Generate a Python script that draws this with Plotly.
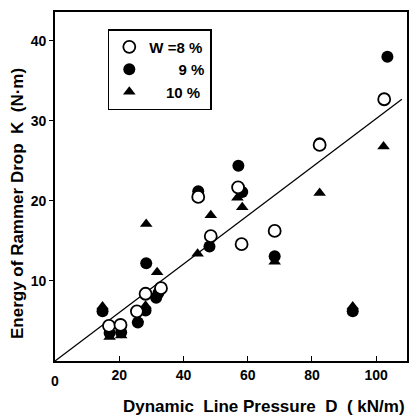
import plotly.graph_objects as go

# W = 8 % (open circles)
x8 = [102.5, 82.4, 57.0, 44.6, 48.5, 58.1, 68.4, 28.2, 33.0, 25.5, 16.8, 20.4]
y8 = [32.7, 27.0, 21.7, 20.5, 15.6, 14.6, 16.25, 8.4, 9.1, 6.2, 4.4, 4.5]
# W = 9 % (filled circles)
x9 = [103.5, 82.4, 57.1, 44.6, 58.3, 48.1, 28.4, 68.4, 31.5, 32.2, 28.2, 92.7, 14.8, 17.0, 20.6, 25.8]
y9 = [38.0, 27.2, 24.4, 21.2, 21.1, 14.3, 12.2, 13.1, 7.9, 8.5, 6.3, 6.2, 6.2, 3.5, 3.6, 4.8]
# W = 10 % (triangles)
x10 = [102.3, 82.4, 28.4, 48.5, 56.8, 58.3, 44.4, 31.8, 68.4, 14.8, 17.0, 20.6, 25.8, 28.2, 92.7]
y10 = [26.8, 21.0, 17.1, 18.2, 20.4, 19.2, 13.4, 11.1, 12.4, 6.8, 3.0, 3.2, 5.2, 6.9, 6.8]
# regression line
fit_x = [0, 108]
fit_y = [0, 32.7]

x_ticks = [0, 20, 40, 60, 80, 100]
y_ticks = [10, 20, 30, 40]

FONT = "Liberation Sans"

fig = go.Figure()
fig.add_trace(go.Scatter(x=fit_x, y=fit_y, mode="lines", line=dict(color="black", width=1.3),
                         showlegend=False, hoverinfo="skip"))
fig.add_trace(go.Scatter(x=x10, y=y10, mode="markers", name="\u00a0\u00a0\u00a0\u00a010 %",
                         marker=dict(symbol="triangle-up", size=11, color="black")))
fig.add_trace(go.Scatter(x=x9, y=y9, mode="markers", name="\u00a0\u00a0\u00a0\u00a0\u00a0\u00a0\u00a09 %",
                         marker=dict(symbol="circle", size=12, color="black")))
fig.add_trace(go.Scatter(x=x8, y=y8, mode="markers", name="W =8 %",
                         marker=dict(symbol="circle", size=12, color="white",
                                     line=dict(color="black", width=1.8))))

fig.update_layout(
    width=412, height=418,
    margin=dict(l=55, r=3, t=12, b=57),
    paper_bgcolor="white", plot_bgcolor="white",
    font=dict(family=FONT, size=13, color="black", weight="bold"),
    legend=dict(x=0.15, y=0.951, xanchor="left", yanchor="top",
                bordercolor="black", borderwidth=1.5, bgcolor="white",
                traceorder="reversed", font=dict(size=15, weight="bold"),
                tracegroupgap=0),
    xaxis=dict(range=[0, 109.6], tickvals=x_ticks[1:], ticktext=[str(v) for v in x_ticks[1:]],
               ticks="inside", ticklen=5, tickwidth=1.3, tickcolor="black",
               showline=True, linecolor="black", linewidth=1.8, mirror=True,
               showgrid=False, zeroline=False, tickfont=dict(size=14, weight="bold")),
    yaxis=dict(range=[0, 43.6], tickvals=y_ticks, ticktext=[str(v) for v in y_ticks],
               ticks="outside", ticklen=4, tickwidth=1.3, tickcolor="black",
               showline=True, linecolor="black", linewidth=1.8, mirror=True,
               showgrid=False, zeroline=False, tickfont=dict(size=14, weight="bold")),
    annotations=[
        dict(text="Dynamic  Line Pressure  D  ( kN/m)", xref="paper", yref="paper",
             x=1.0, y=-0.098, xanchor="right", yanchor="top", showarrow=False,
             font=dict(size=17, weight="bold")),
        dict(text="Energy of Rammer Drop  K  (N·m)", xref="paper", yref="paper",
             x=-0.105, y=0.45, xanchor="center", yanchor="middle", textangle=-90,
             showarrow=False, font=dict(size=17, weight="bold")),
        dict(text=str(x_ticks[0]), xref="x", yref="paper", x=x_ticks[0], y=-0.03,
             xanchor="center", yanchor="top", showarrow=False,
             font=dict(size=14, weight="bold")),
    ],
)
fig.write_html("out.html")
